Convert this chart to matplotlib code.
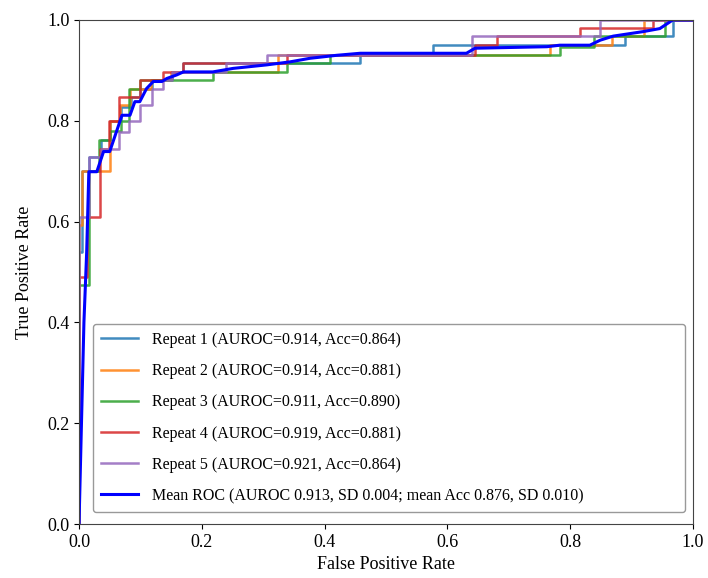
"""ROC curves for five repeats plus the mean ROC."""

import matplotlib

matplotlib.use("Agg")
import matplotlib.pyplot as plt

plt.rcParams["font.family"] = ["Liberation Serif", "DejaVu Serif"]

# corner points of each repeat's ROC curve
fpr_r1 = [0, 0, 0.005, 0.005, 0.016, 0.016, 0.035, 0.035, 0.05, 0.05, 0.068, 0.068, 0.084, 0.084,
          0.10, 0.10, 0.119, 0.119, 0.151, 0.151, 0.17, 0.17, 0.458, 0.458, 0.577, 0.577, 0.89, 0.89,
          0.967, 0.967, 1.0]
tpr_r1 = [0, 0.54, 0.54, 0.70, 0.70, 0.729, 0.729, 0.762, 0.762, 0.80, 0.80, 0.828, 0.828, 0.848,
          0.848, 0.864, 0.864, 0.881, 0.881, 0.897, 0.897, 0.914, 0.914, 0.934, 0.934, 0.95, 0.95, 0.968,
          0.968, 1.0, 1.0]

fpr_r2 = [0, 0, 0.005, 0.005, 0.05, 0.05, 0.067, 0.067, 0.083, 0.083, 0.118, 0.118, 0.15, 0.15,
          0.324, 0.324, 0.767, 0.767, 0.868, 0.868, 0.92, 0.92, 1.0]
tpr_r2 = [0, 0.593, 0.593, 0.70, 0.70, 0.80, 0.80, 0.831, 0.831, 0.864, 0.864, 0.881, 0.881, 0.897,
          0.897, 0.93, 0.93, 0.95, 0.95, 0.968, 0.968, 1.0, 1.0]

fpr_r3 = [0, 0, 0.016, 0.016, 0.033, 0.033, 0.05, 0.05, 0.068, 0.068, 0.081, 0.081, 0.10, 0.10,
          0.218, 0.218, 0.338, 0.338, 0.409, 0.409, 0.783, 0.783, 0.838, 0.838, 0.954, 0.954, 1.0]
tpr_r3 = [0, 0.474, 0.474, 0.70, 0.70, 0.762, 0.762, 0.78, 0.78, 0.80, 0.80, 0.864, 0.864, 0.881,
          0.881, 0.897, 0.897, 0.914, 0.914, 0.93, 0.93, 0.947, 0.947, 0.968, 0.968, 1.0, 1.0]

fpr_r4 = [0, 0, 0.0125, 0.0125, 0.034, 0.034, 0.049, 0.049, 0.065, 0.065, 0.10, 0.10, 0.136, 0.136,
          0.17, 0.17, 0.338, 0.338, 0.645, 0.645, 0.68, 0.68, 0.816, 0.816, 0.935, 0.935, 1.0]
tpr_r4 = [0, 0.49, 0.49, 0.61, 0.61, 0.745, 0.745, 0.80, 0.80, 0.848, 0.848, 0.881, 0.881, 0.897,
          0.897, 0.914, 0.914, 0.93, 0.93, 0.95, 0.95, 0.968, 0.968, 0.985, 0.985, 1.0, 1.0]

fpr_r5 = [0, 0, 0.003, 0.003, 0.016, 0.016, 0.035, 0.035, 0.065, 0.065, 0.081, 0.081, 0.10, 0.10,
          0.119, 0.119, 0.136, 0.136, 0.151, 0.151, 0.24, 0.24, 0.306, 0.306, 0.64, 0.64, 0.849, 0.849,
          1.0]
tpr_r5 = [0, 0.61, 0.61, 0.61, 0.61, 0.729, 0.729, 0.745, 0.745, 0.778, 0.778, 0.80, 0.80, 0.831,
          0.831, 0.864, 0.864, 0.881, 0.881, 0.897, 0.897, 0.914, 0.914, 0.93, 0.93, 0.968, 0.968, 1.0,
          1.0]

# mean ROC as drawn in the figure
fpr_mean = [0, 0.008, 0.0125, 0.016, 0.029, 0.04, 0.05, 0.07, 0.083, 0.091, 0.099, 0.11, 0.121, 0.135,
            0.143, 0.159, 0.17, 0.218, 0.251, 0.306, 0.344, 0.376, 0.42, 0.458, 0.631, 0.645, 0.762,
            0.783, 0.832, 0.849, 0.87, 0.919, 0.946, 0.967, 1.0]
tpr_mean = [0, 0.40, 0.54, 0.699, 0.699, 0.739, 0.739, 0.811, 0.811, 0.838, 0.838, 0.864, 0.878, 0.878,
            0.884, 0.891, 0.897, 0.897, 0.904, 0.911, 0.917, 0.924, 0.93, 0.934, 0.934, 0.944, 0.947,
            0.95, 0.95, 0.96, 0.968, 0.977, 0.983, 1.0, 1.0]

repeat_labels = [
    "Repeat 1 (AUROC=0.914, Acc=0.864)",
    "Repeat 2 (AUROC=0.914, Acc=0.881)",
    "Repeat 3 (AUROC=0.911, Acc=0.890)",
    "Repeat 4 (AUROC=0.919, Acc=0.881)",
    "Repeat 5 (AUROC=0.921, Acc=0.864)",
]
mean_label = "Mean ROC (AUROC 0.913, SD 0.004; mean Acc 0.876, SD 0.010)"

fig = plt.figure(figsize=(7.08, 5.78), dpi=100)
ax = fig.add_axes([0.1116, 0.0934, 0.8672, 0.872])

repeats = [(fpr_r1, tpr_r1), (fpr_r2, tpr_r2), (fpr_r3, tpr_r3), (fpr_r4, tpr_r4), (fpr_r5, tpr_r5)]
colors = ["#1f77b4", "#ff7f0e", "#2ca02c", "#d62728", "#9467bd"]
for (fpr, tpr), color, label in zip(repeats, colors, repeat_labels):
    ax.plot(fpr, tpr, color=color, linewidth=1.8, alpha=0.85, label=label)
ax.plot(fpr_mean, tpr_mean, color="blue", linewidth=2.2, label=mean_label)

ax.set_xlim(0, 1)
ax.set_ylim(0, 1)
ax.set_xlabel("False Positive Rate", fontsize=13, labelpad=4)
ax.set_ylabel("True Positive Rate", fontsize=13, labelpad=10)
ax.tick_params(labelsize=13)
for spine in ax.spines.values():
    spine.set_color("#444444")

ax.legend(
    loc="lower left",
    bbox_to_anchor=(0.023, 0.024, 0.964, 0.385),
    mode="expand",
    borderaxespad=0,
    fontsize=11.5,
    labelspacing=0.95,
    handlelength=2.3,
    handletextpad=0.9,
    borderpad=0.5,
    edgecolor="#999999",
    framealpha=1.0,
)

fig.savefig("out.png", dpi=100)
